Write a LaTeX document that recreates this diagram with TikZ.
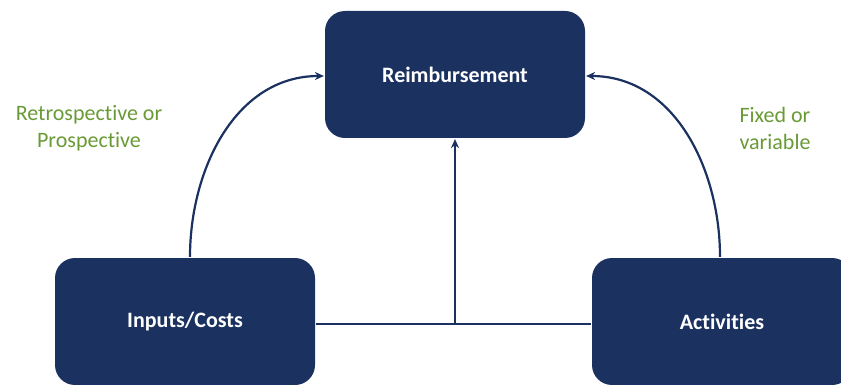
\documentclass[tikz,border=0pt]{standalone}
\usepackage{fontspec}
\setmainfont[Ligatures=CommonOff]{Carlito}
\usetikzlibrary{arrows.meta}
\definecolor{navy}{HTML}{1B3160}
\definecolor{leaf}{HTML}{6A9A36}

\begin{document}
\begin{tikzpicture}[x=1pt,y=-1pt,line width=2.2pt,
        box/.style={fill=navy,rounded corners=20pt,minimum width=260pt,minimum height=127pt,text=white,font=\fontsize{22}{26}\selectfont\bfseries},
        note/.style={text=leaf,align=center,font=\fontsize{22}{27}\selectfont},
        link/.style={navy,-{Stealth[length=9pt,width=8pt]}}]
        \useasboundingbox (0,0) rectangle (841,385);
        \clip (0,0) rectangle (841,385);
        \node[box] (reimb) at (455,74.5) {Reimbursement};
        \node[box] (inputs) at (185,321.5) {Inputs/Costs};
        \node[box] (acts) at (722,321.5) {Activities};
        \node[note] (retro) at (89,128) {Retrospective or\\Prospective};
        \node[note] (fixed) at (775,128) {Fixed or\\variable};
        \coordinate (mid) at ([yshift=-2.5pt]reimb.south |- inputs.east);
        \draw[navy] ([yshift=-2.5pt]inputs.east) -- ([yshift=-2.5pt]acts.west);
        \draw[link] (mid) -- (reimb.south);
        \draw[link] ([xshift=5pt]inputs.north) to[out=90,in=180] ([yshift=-1.5pt]reimb.west);
        \draw[link] ([xshift=-2pt]acts.north) to[out=90,in=0] ([yshift=-1.5pt]reimb.east);
    \end{tikzpicture}
\end{document}
